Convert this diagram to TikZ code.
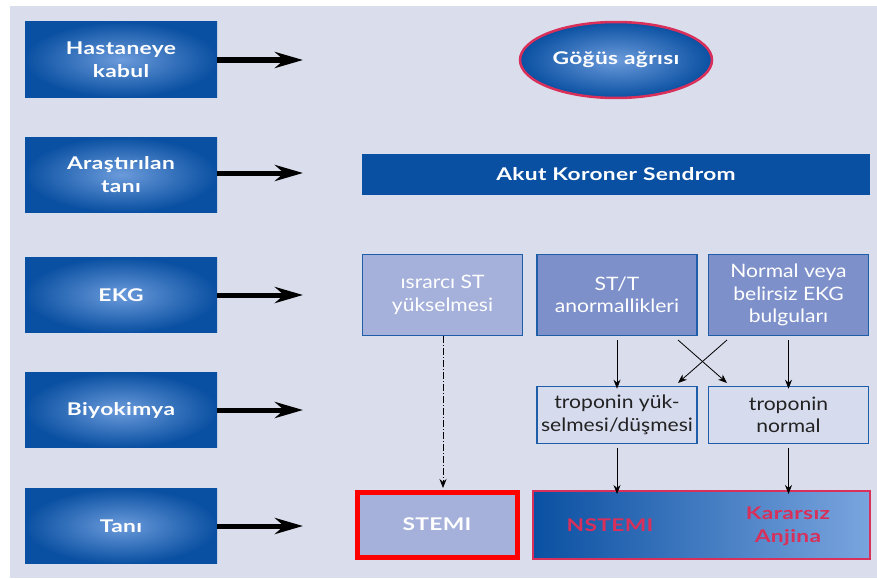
\documentclass[tikz,border=0pt]{standalone}
\usepackage{fontspec}
\setmainfont{Lato}
\newfontfamily\wideb[FakeStretch=1.3,LetterSpace=2]{Lato}
\newfontfamily\wider[FakeStretch=1.14]{Lato}
\usetikzlibrary{shapes.geometric,arrows.meta}
\definecolor{bgc}{HTML}{DADEEC}
\definecolor{dblue}{HTML}{0A50A2}
\definecolor{lblue}{HTML}{6B9BDB}
\definecolor{boxlight}{HTML}{A5B1DA}
\definecolor{boxmid}{HTML}{7D90CA}
\definecolor{tropfill}{HTML}{D7DBEE}
\definecolor{bordblue}{HTML}{1E5EA8}
\definecolor{crimson}{HTML}{D8305A}
\definecolor{txt}{HTML}{222222}
\tikzset{
  boldlbl/.style={font=\wideb\bfseries\fontsize{17.5}{23}\selectfont},
  reglbl/.style={font=\wider\fontsize{18.5}{22.5}\selectfont},
  leftbox/.style={rectangle, minimum width=192pt, minimum height=75pt, inner color=lblue, outer color=dblue, text=white, boldlbl, align=center},
  bigarrow/.style={line width=5pt, -{Stealth[length=28pt,width=16pt,inset=9pt]}},
  ekgbox/.style={rectangle, draw=bordblue, line width=1.6pt, minimum width=160pt, minimum height=81pt, text=white, reglbl, align=center},
  tropbox/.style={rectangle, draw=bordblue, line width=1.6pt, fill=tropfill, minimum width=160pt, minimum height=57pt, text=txt, reglbl, align=center},
  thin/.style={line width=0.8pt, -{Stealth[length=9pt,width=7pt]}},
  plain/.style={inner sep=0pt}
}
\begin{document}
\begin{tikzpicture}[x=1pt,y=-1pt]
\useasboundingbox (0,0) rectangle (877,578);
\fill[bgc] (10,6) rectangle (877,578);
% left column
\node[leftbox] (h1) at (121,59.5) {Hastaneye\\kabul};
\node[leftbox] (h2) at (121,174.5) {Araştırılan\\tanı};
\node[leftbox] (h3) at (121,295) {EKG};
\node[leftbox] (h4) at (121,410) {Biyokimya};
\node[leftbox] (h5) at (121,526) {Tanı};
\coordinate (a1) at (303,60);
\coordinate (a2) at (303,173);
\coordinate (a3) at (303,295);
\coordinate (a4) at (303,410);
\coordinate (a5) at (303,526);
\foreach \i in {1,...,5} \draw[bigarrow] (h\i.east |- a\i) -- (a\i);
% ellipse
\node[ellipse, draw=crimson, line width=2.5pt, inner color=lblue, outer color=dblue, minimum width=192pt, minimum height=76pt, text=white, boldlbl] (gog) at (616,60) {Göğüs ağrısı};
% AKS bar
\node[rectangle, fill=dblue, minimum width=508pt, minimum height=41pt, text=white, boldlbl] (aks) at (616,174.5) {Akut Koroner Sendrom};
% EKG boxes
\node[ekgbox, fill=boxlight] (st) at (442.5,295) {ısrarcı ST\\yükselmesi};
\node[ekgbox, fill=boxmid] (stt) at (617,295) {ST/T\\anormallikleri};
\node[ekgbox, fill=boxmid] (norm) at (788.5,295) {Normal veya\\belirsiz EKG\\bulguları};
% troponin
\node[tropbox] (tr1) at (617,415) {troponin yük-\\selmesi/düşmesi};
\node[tropbox] (tr2) at (788.5,415) {troponin\\normal};
% diagnosis
\node[rectangle, draw=red, line width=5pt, fill=boxlight, minimum width=160pt, minimum height=65pt, text=white, boldlbl] (stemi) at (437,524.5) {STEMI};
\node[rectangle, draw=crimson, line width=2pt, left color=dblue, right color=lblue!90!white, minimum width=337pt, minimum height=68pt] (nst) at (701.5,525) {};
\node[plain, text=crimson, boldlbl] (nstt) at (610,525) {NSTEMI};
\node[plain, text=crimson, boldlbl, align=center] (ka) at (788,526) {Kararsız\\Anjina};
% connectors
\coordinate (stend) at (443,488);
\draw[line width=0.8pt, dash pattern=on 7pt off 2pt on 1pt off 2pt, -{Stealth[length=9pt,width=7pt]}] (st.south -| stend) -- (stend);
\draw[thin] ([yshift=-4pt]stt.south) -- ([yshift=-3pt]tr1.north);
\draw[thin] ([yshift=-4pt]norm.south) -- ([yshift=-3pt]tr2.north);
\coordinate (c1) at (678,340);
\coordinate (c2) at (727,340);
\coordinate (c3) at (678,383);
\coordinate (c4) at (727,383);
\draw[thin] (c1) -- (c4);
\draw[thin] (c2) -- (c3);
\draw[thin] ([yshift=-4pt]tr1.south) -- ([yshift=-4pt]tr1.south |- nst.north);
\draw[thin] ([yshift=-4pt]tr2.south) -- ([yshift=-4pt]tr2.south |- nst.north);
\end{tikzpicture}
\end{document}
